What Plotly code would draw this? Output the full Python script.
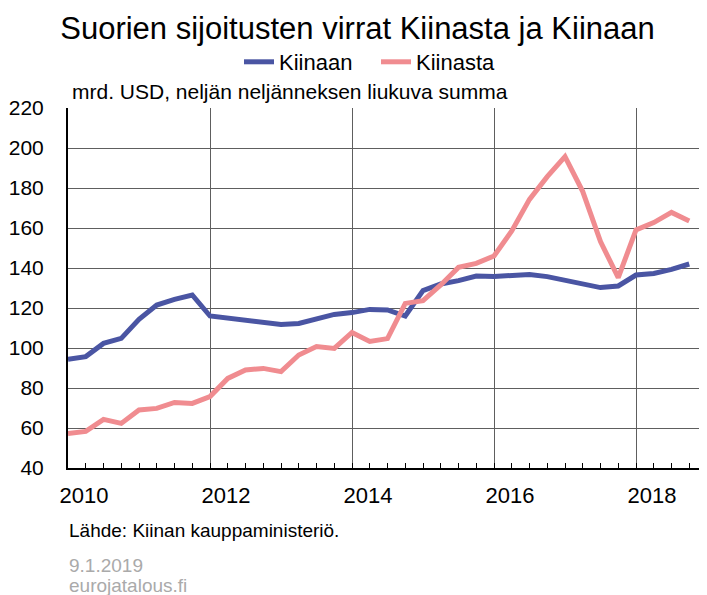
import plotly.graph_objects as go

quarters = [f"{y}Q{q}" for y in range(2010, 2019) for q in range(1, 5)]

kiinaan = [94.3, 95.7, 102.3, 104.8, 114.3, 121.5, 124.3, 126.5,
           116.0, 114.8, 114.0, 112.8, 111.8, 112.3, 114.7, 116.8,
           117.7, 119.3, 119.0, 116.0, 128.7, 132.0, 133.7, 136.0,
           135.7, 136.0, 136.8, 135.7, 133.7, 132.0, 130.2, 131.0,
           136.5, 137.3, 139.3, 142.0]

kiinasta = [57.3, 58.3, 64.3, 62.3, 69.0, 69.8, 72.8, 72.3,
            75.7, 84.8, 89.0, 89.8, 88.2, 96.5, 100.7, 99.8,
            107.8, 103.3, 104.7, 122.3, 123.7, 131.5, 140.3, 142.3,
            146.0, 158.5, 174.3, 185.7, 195.7, 178.2, 153.2, 135.2,
            159.0, 162.7, 167.8, 163.5]

year_ticks = [2010, 2012, 2014, 2016, 2018]
y_ticks = [40, 60, 80, 100, 120, 140, 160, 180, 200, 220]


def q_to_x(q):
    y, n = q.split("Q")
    return int(y) + (int(n) - 1) / 4


x = [q_to_x(q) for q in quarters]

FONT = "Liberation Sans, Arial, sans-serif"
BLUE = "#4a55a3"
PINK = "#f08c90"
GRID = "#5e5e5e"

# page body has an 8px offset; layout numbers below are in window pixels
OFF = 8
W, H = 707, 595
L, T, B = 68 - OFF, 108 - OFF, H - (468 - OFF)
PW = W - L            # plot width in px
PH = 360
PX_PER_YEAR = 639 / 9


def px(xw):
    return (xw - 68) / PW


def py(yw):
    return (468 - yw) / PH


fig = go.Figure()
fig.add_trace(go.Scatter(x=x, y=kiinaan, mode="lines", name="Kiinaan",
                         line=dict(color=BLUE, width=5)))
fig.add_trace(go.Scatter(x=x, y=kiinasta, mode="lines", name="Kiinasta",
                         line=dict(color=PINK, width=5)))

fig.update_layout(
    width=W, height=H,
    margin=dict(l=L, r=0, t=T, b=B, autoexpand=False),
    paper_bgcolor="white", plot_bgcolor="white",
    font=dict(family=FONT, color="black"),
    title=dict(text="Suorien sijoitusten virrat Kiinasta ja Kiinaan",
               font=dict(size=31, family=FONT, color="black"),
               xref="container", x=(357.5 - OFF) / W, xanchor="center",
               yref="container", y=1 - (28 - OFF) / H, yanchor="middle"),
    legend=dict(orientation="h", x=px(376), xanchor="center",
                y=py(62), yanchor="middle",
                font=dict(size=22, family=FONT, color="black"),
                itemwidth=30, entrywidth=92, entrywidthmode="pixels",
                bgcolor="rgba(0,0,0,0)"),
    xaxis=dict(range=[2010, 2010 + PW / PX_PER_YEAR], tickvals=year_ticks,
               ticktext=[str(v) for v in year_ticks],
               showgrid=True, gridcolor=GRID, gridwidth=1.2,
               zeroline=False, showline=True, linecolor="black", linewidth=2,
               ticks="inside", ticklen=5, tickcolor="black",
               tickfont=dict(size=22, family=FONT, color="black"),
               ticklabelshift=16, ticklabelstandoff=7, automargin=False,
               minor=dict(dtick=0.25, tick0=2010, ticks="inside", ticklen=5,
                          tickcolor="black", showgrid=False)),
    yaxis=dict(range=[40, 220], tickvals=y_ticks,
               showgrid=True, gridcolor=GRID, gridwidth=1.2,
               zeroline=False, showline=True, linecolor="black", linewidth=2,
               ticks="", tickfont=dict(size=21, family=FONT, color="black"),
               ticklabelstandoff=18, automargin=False),
    showlegend=True,
)

fig.add_annotation(text="mrd. USD, neljän neljänneksen liukuva summa",
                   xref="paper", yref="paper", x=px(70), y=py(92),
                   xanchor="left", yanchor="middle", showarrow=False,
                   font=dict(size=21, family=FONT, color="black"))
fig.add_annotation(text="Lähde: Kiinan kauppaministeriö.",
                   xref="paper", yref="paper", x=px(67), y=py(530),
                   xanchor="left", yanchor="middle", showarrow=False,
                   font=dict(size=19, family=FONT, color="black"))
fig.add_annotation(text="9.1.2019",
                   xref="paper", yref="paper", x=px(67), y=py(565),
                   xanchor="left", yanchor="middle", showarrow=False,
                   font=dict(size=19, family=FONT, color="#aaaaaa"))
fig.add_annotation(text="eurojatalous.fi",
                   xref="paper", yref="paper", x=px(67), y=py(585),
                   xanchor="left", yanchor="middle", showarrow=False,
                   font=dict(size=19, family=FONT, color="#aaaaaa"))

fig.write_html("out.html")
